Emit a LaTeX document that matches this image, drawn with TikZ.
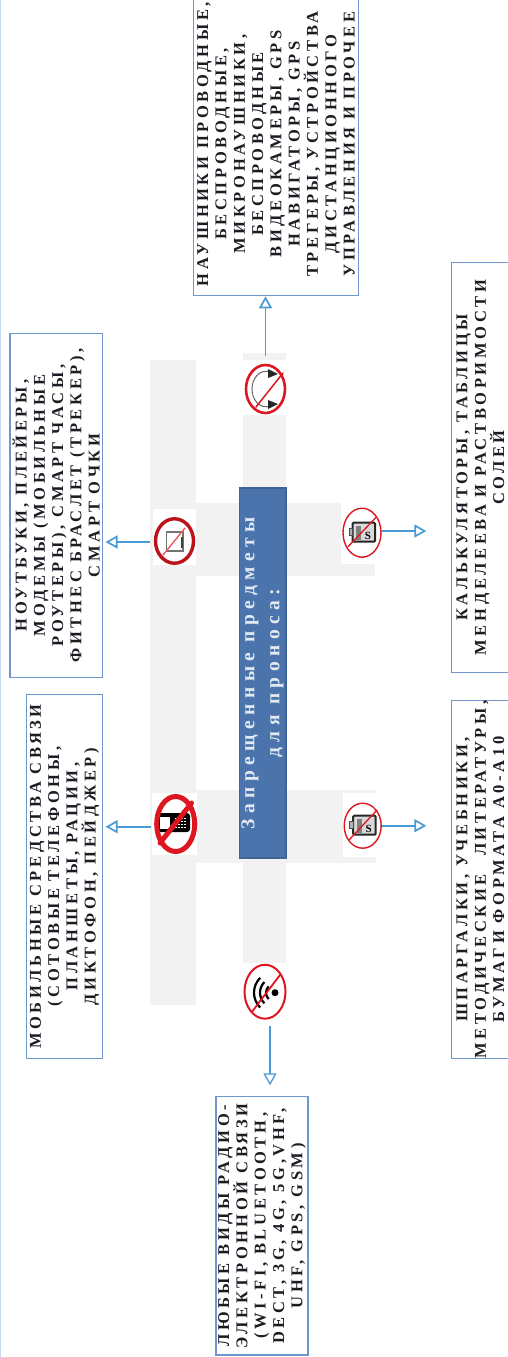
\documentclass[tikz,border=0pt]{standalone}
\usepackage{fontspec}
\setmainfont{Liberation Serif}
\newfontfamily\boxfont{Liberation Serif}[LetterSpace=22]
\newfontfamily\titlefont{Liberation Serif}[LetterSpace=28]
\usetikzlibrary{arrows.meta,shapes.geometric}
\definecolor{bandgrey}{HTML}{F2F2F2}
\definecolor{boxline}{HTML}{7097CC}
\definecolor{arrowblue}{HTML}{4A9BD5}
\definecolor{titlefill}{HTML}{4A74AB}
\definecolor{titleline}{HTML}{3E6596}
\definecolor{ringred}{HTML}{DD1620}
\definecolor{edgeblue}{HTML}{C6DAF2}
\definecolor{titletext}{HTML}{E4EAF2}
\definecolor{inktext}{HTML}{1C1C24}
\tikzset{
  infobox/.style={draw=boxline,line width=1.2pt,fill=white,rotate=90,align=center,inner sep=0pt,
    text=inktext,font=\boxfont\bfseries\fontsize{16.5}{18.3}\selectfont},
  titlebox/.style={draw=titleline,line width=1.5pt,fill=titlefill,rotate=90,align=center,inner sep=0pt,
    text=titletext,font=\titlefont\bfseries\fontsize{19.5}{25}\selectfont},
  band/.style={fill=bandgrey,draw=none},
  iconbg/.style={fill=white,draw=none},
  ring/.style={ellipse,draw=ringred,inner sep=0pt},
  bar/.style={draw=ringred,line cap=round},
  link/.style={draw=arrowblue,line width=1.7pt,-{Triangle[open,length=12pt,width=13pt]}},
  cheat/.pic={
    \fill[black!15,draw=black!85,line width=2pt,rounded corners=1pt] (-9.5,-9) rectangle (13,10);
    \fill[black!50] (-6,-7) rectangle (-1,7);
    \fill[black!30,draw=black!70,line width=1pt] (-13,-3) rectangle (-9.5,4);
    \node[inner sep=0pt,font=\bfseries\fontsize{11}{11}\selectfont] (-s) at (6,-3) {S};
  }
}
\begin{document}
\begin{tikzpicture}[x=1pt,y=1pt]
\useasboundingbox (0,0) rectangle (507,-1357);
\fill[edgeblue] (0,0) rectangle (1,-1357);

% grey bands
\fill[band] (149.5,-360) rectangle (196,-1005);
\fill[band] (242.5,-353) rectangle (286,-963);
\fill[band] (149.5,-502.7) rectangle (375,-576);
\fill[band] (150,-790) rectangle (376,-863);

% white icon backgrounds
\fill[iconbg] (242.5,-360) rectangle (286,-415);
\fill[iconbg] (153,-509) rectangle (196,-565);
\fill[iconbg] (341,-502) rectangle (382,-564);
\fill[iconbg] (343,-793) rectangle (382,-857);
\fill[iconbg] (152,-793) rectangle (197,-855);
\fill[iconbg] (243,-963) rectangle (286,-1022);

% title
\node[titlebox,minimum width=370pt,minimum height=46.7pt] (title) at (262.6,-673)
  {Запрещенные предметы\\для проноса:};

% icon 1: rotating arrows
\draw[black!60,line width=1pt] (272,-372) .. controls (258,-368) and (252,-380) .. (252,-389)
  .. controls (252,-398) and (258,-410) .. (272,-406);
\fill[black!85] (268,-369) -- (278,-374) -- (268,-378) -- cycle;
\fill[black!85] (268,-400) -- (278,-404) -- (268,-409) -- cycle;
\node[ring,line width=2.6pt,minimum width=39pt,minimum height=48pt] (i1) at (265.5,-389) {};
\draw[bar,line width=1.5pt] (256,-407) -- (283,-373);

% icon 2: notebook
\draw[black!55,line width=1.3pt,fill=white] (166.7,-532) rectangle (183,-551);
\fill[black!75] (180.5,-537) rectangle (183,-548);
\node[ring,line width=3.4pt,fill=none,draw=ringred!85!black,minimum width=38pt,minimum height=44.5pt] (i2) at (174.5,-541) {};
\draw[bar,draw=ringred!70!white,line width=1.4pt] (163,-555) -- (185,-528);

% icon 3: phone
\fill[black,rounded corners=3pt] (155,-813) rectangle (190,-832);
\fill[white] (160,-817) rectangle (170,-829);
\foreach \px in {175,178,181,184}{\foreach \py in {819,822,825,828}{\fill[white] (\px,-\py) rectangle +(1.5,1.5);}}
\node[ring,line width=5pt,minimum width=38pt,minimum height=55pt] (i3) at (175.7,-824) {};
\draw[bar,line width=5pt] (160,-843) -- (191.5,-803);

% icon 4: wifi
\fill[black] (275,-992.7) circle (3.5);
\draw[black,line width=2.2pt] (275,-992.7) ++(135:9) arc[start angle=135,end angle=225,radius=9];
\draw[black,line width=2.2pt] (275,-992.7) ++(135:15) arc[start angle=135,end angle=225,radius=15];
\draw[black,line width=2.2pt] (275,-992.7) ++(135:21) arc[start angle=135,end angle=225,radius=21];
\node[ring,line width=2pt,minimum width=41pt,minimum height=54pt] (i4) at (265,-991.7) {};
\draw[bar,line width=1.8pt] (252,-1011.7) -- (280,-975);

% icon 5 and 6: crib sheets
\pic (c5) at (362,-532.7) {cheat};
\node[ring,line width=1.4pt,minimum width=38pt,minimum height=49pt] (i5) at (362,-532.7) {};
\draw[bar,line width=1.3pt] (348,-546.7) -- (376.7,-516.7);
\pic (c6) at (362.7,-825.7) {cheat};
\node[ring,line width=1.4pt,minimum width=37pt,minimum height=45pt] (i6) at (362.7,-825.7) {};
\draw[bar,line width=1.3pt] (349,-840) -- (377,-810);

% info boxes
\node[infobox,minimum width=303.4pt,minimum height=165pt] (b1) at (276,-144) {НАУШНИКИ ПРОВОДНЫЕ,\\БЕСПРОВОДНЫЕ,\\МИКРОНАУШНИКИ,\\БЕСПРОВОДНЫЕ\\ВИДЕОКАМЕРЫ, GPS\\НАВИГАТОРЫ, GPS\\ТРЕГЕРЫ, УСТРОЙСТВА\\ДИСТАНЦИОННОГО\\УПРАВЛЕНИЯ И ПРОЧЕЕ};
\node[infobox,minimum width=343.8pt,minimum height=92.5pt] (b2) at (56.2,-505.4) {НОУТБУКИ, ПЛЕЙЕРЫ,\\МОДЕМЫ (МОБИЛЬНЫЕ\\РОУТЕРЫ), СМАРТ ЧАСЫ,\\ФИТНЕС БРАСЛЕТ (ТРЕКЕР),\\СМАРТ ОЧКИ};
\node[infobox,minimum width=364.4pt,minimum height=76pt] (b3) at (64.5,-876.5) {МОБИЛЬНЫЕ СРЕДСТВА СВЯЗИ\\(СОТОВЫЕ ТЕЛЕФОНЫ,\\ПЛАНШЕТЫ, РАЦИИ,\\ДИКТОФОН, ПЕЙДЖЕР)};
\node[infobox,minimum width=258.3pt,minimum height=92pt] (b4) at (262,-1225.8) {ЛЮБЫЕ ВИДЫ РАДИО-\\ЭЛЕКТРОННОЙ СВЯЗИ\\(WI-FI, BLUETOOTH,\\DECT, 3G, 4G, 5G,VHF,\\UHF, GPS, GSM)};
\node[infobox,minimum width=410.4pt,minimum height=57.5pt] (b5) at (480.4,-467.5) {КАЛЬКУЛЯТОРЫ, ТАБЛИЦЫ\\МЕНДЕЛЕЕВА И РАСТВОРИМОСТИ\\СОЛЕЙ};
\node[infobox,minimum width=357.6pt,minimum height=57.5pt] (b6) at (480.4,-879.5) {ШПАРГАЛКИ, УЧЕБНИКИ,\\МЕТОДИЧЕСКИЕ\hspace{1.1em}ЛИТЕРАТУРЫ,\\БУМАГИ ФОРМАТА А0-А10};

% connectors
\draw[link,shorten <=8pt] (i1.north) -- (i1.north |- b1.west);
\draw[link,shorten <=3.7pt,shorten >=2.5pt] ([yshift=-1pt]i2.west) -- ([yshift=-1pt]i2.west -| b2.south);
\draw[link,shorten <=3.7pt,shorten >=2.5pt] ([yshift=-2.7pt]i3.west) -- ([yshift=-2.7pt]i3.west -| b3.south);
\draw[link,line width=1.3pt,shorten <=6pt,shorten >=10.7pt] ([xshift=5pt]i4.south) -- ([xshift=5pt]i4.south |- b4.east);
\draw[link,shorten >=24.7pt] ([yshift=1.7pt]i5.east) -- ([yshift=1.7pt]i5.east -| b5.north);
\draw[link,shorten >=24.7pt] (i6.east) -- (i6.east -| b6.north);
\end{tikzpicture}
\end{document}
